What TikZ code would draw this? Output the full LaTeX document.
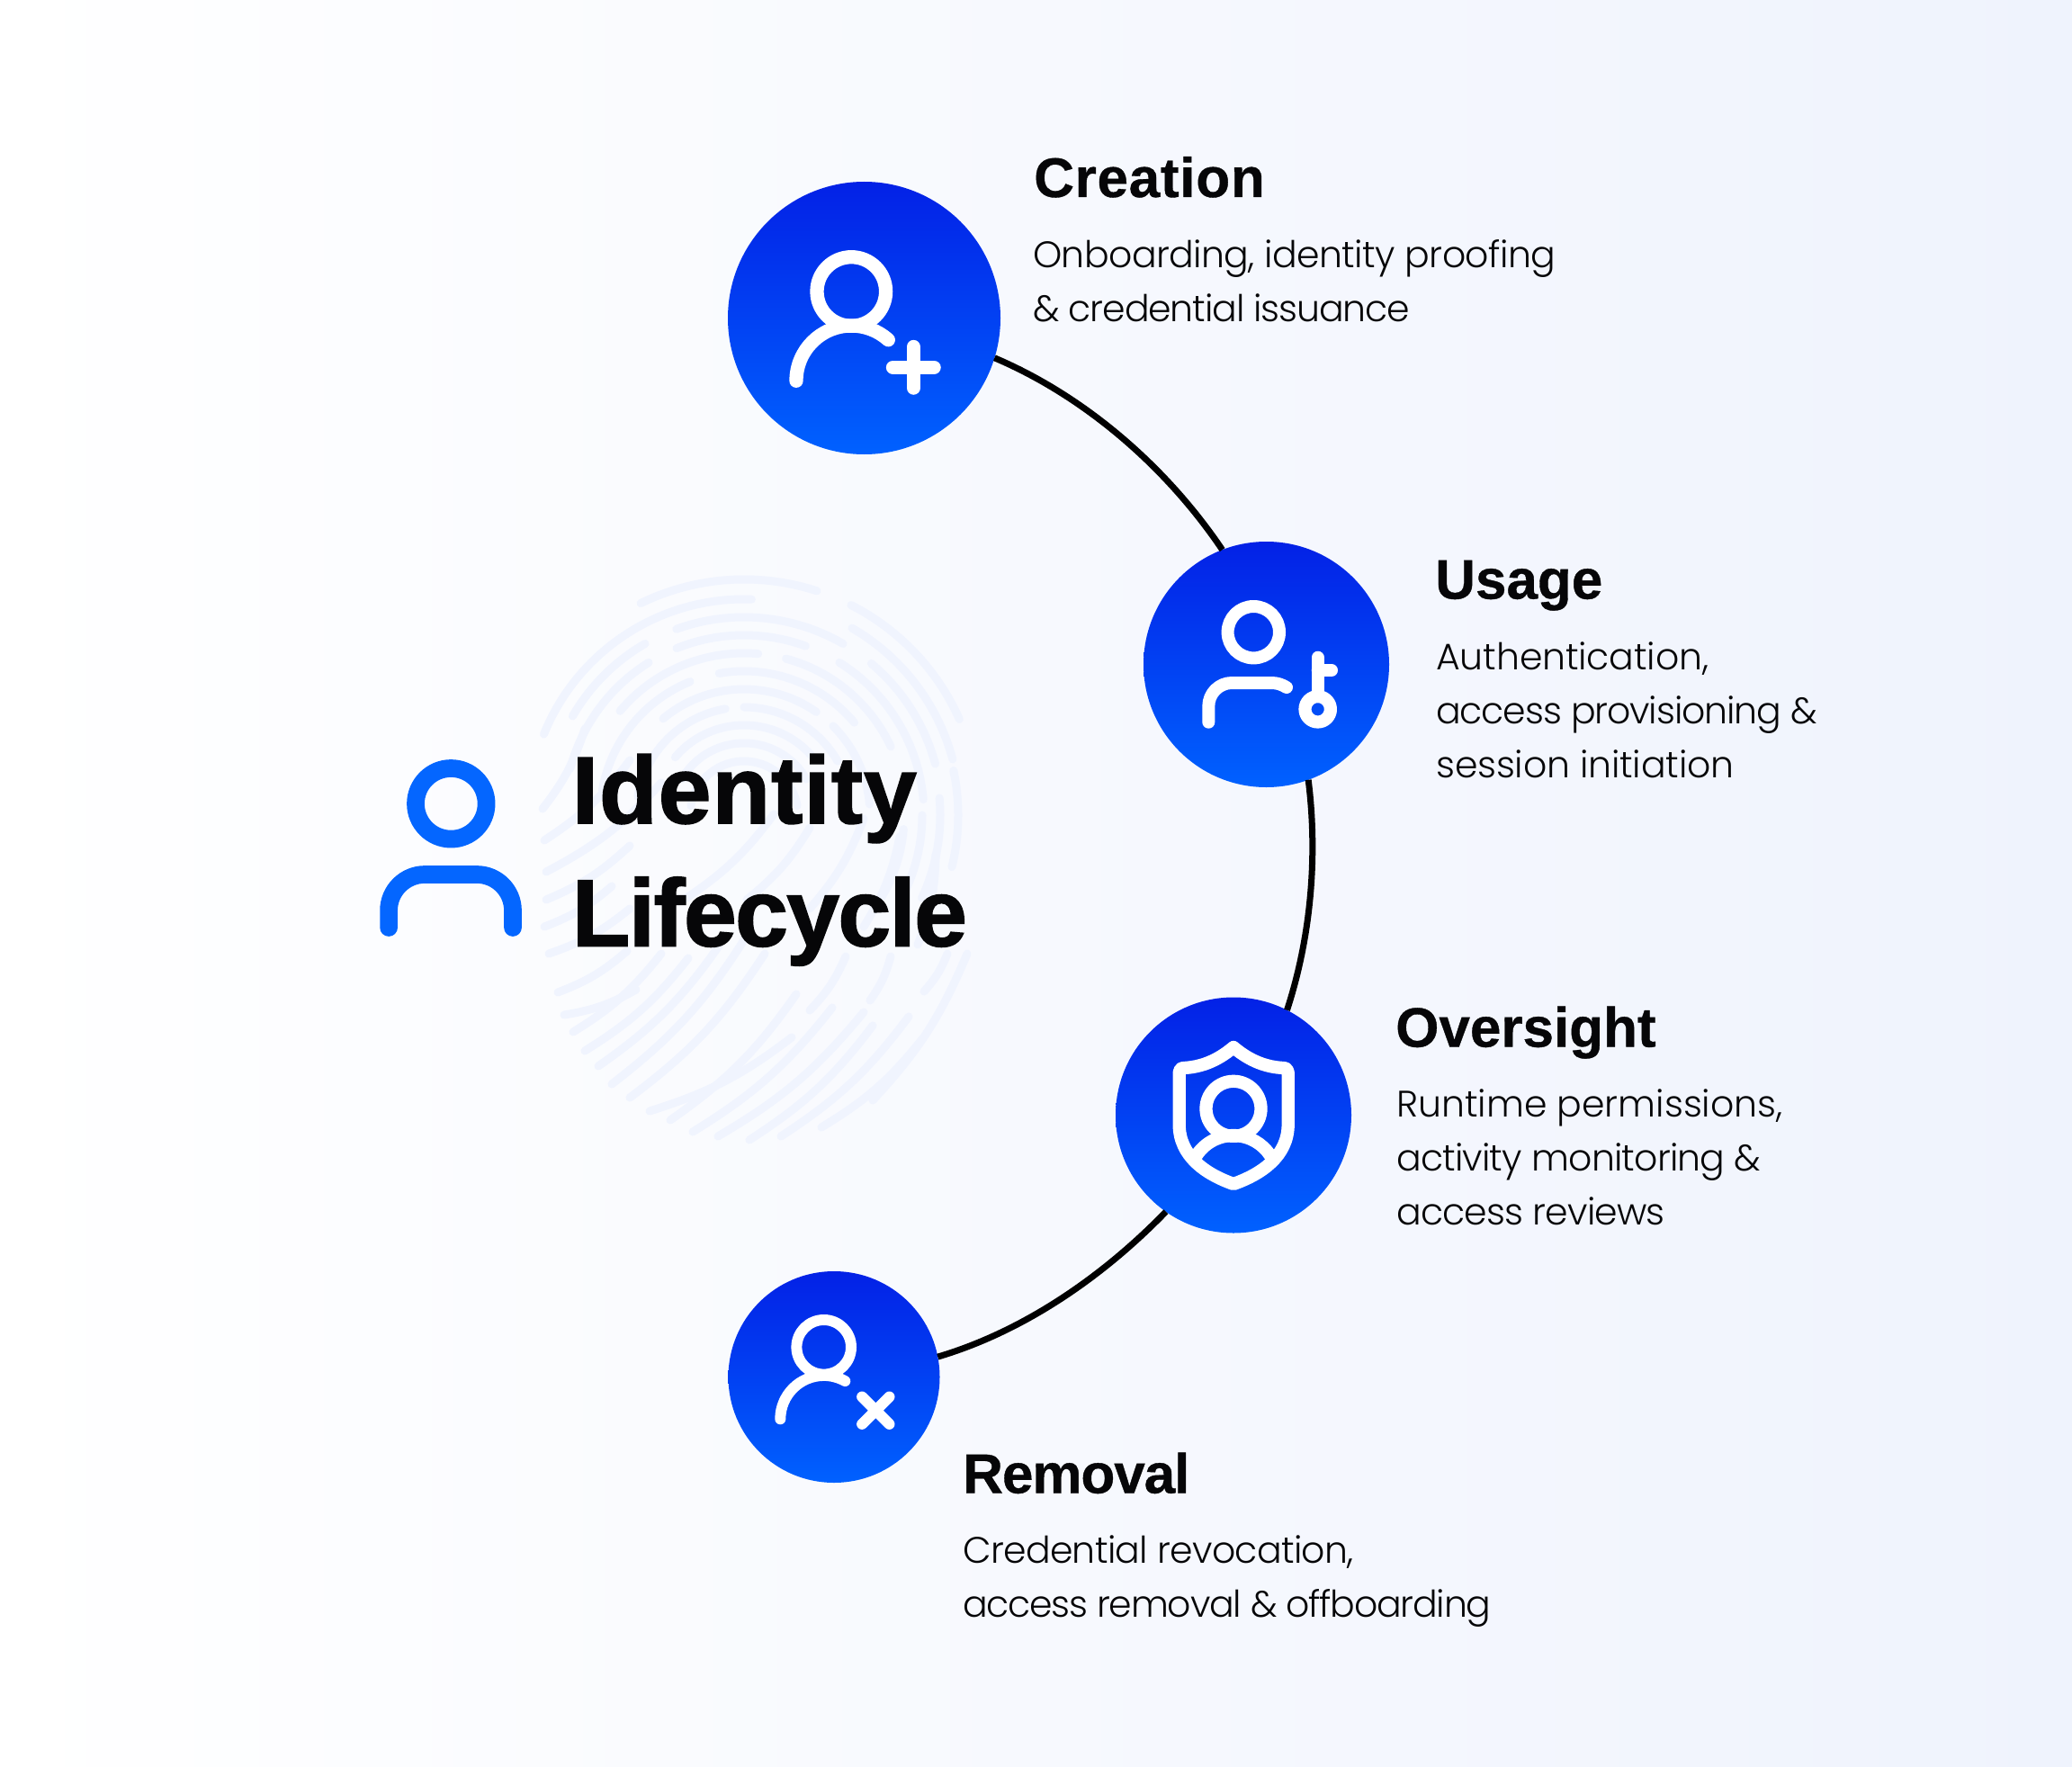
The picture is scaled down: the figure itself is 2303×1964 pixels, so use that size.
\documentclass[tikz,border=0pt]{standalone}
\usepackage{fontspec}
\setmainfont{Liberation Sans}
\newfontfamily\bodyf[LetterSpace=-2.0]{Poppins Light}
\newfontfamily\headf[FakeBold=0.6]{Liberation Sans Bold}
\newfontfamily\titlef[FakeBold=1.4]{Liberation Sans Bold}
\newcommand{\lsp}[2]{{\addfontfeature{LetterSpace=#1}#2}}
\usetikzlibrary{calc}
\definecolor{ctop}{HTML}{0321E6}
\definecolor{cbot}{HTML}{0061FF}
\definecolor{iconblue}{HTML}{0466FF}
\definecolor{ridge}{HTML}{F0F4FE}
\definecolor{ink}{HTML}{060608}
\definecolor{bgmid}{HTML}{F8FAFF}
\definecolor{bgright}{HTML}{EFF3FD}
\tikzset{
  disc/.style={circle,draw=none,inner sep=0pt,outer sep=0pt,top color=ctop,bottom color=cbot},
  link/.style={draw=black,line width=7pt,line cap=butt,looseness=0.85},
  ico/.style={draw=white,line cap=round,line join=round},
  ridgeline/.style={draw=ridge,line width=9pt,line cap=round},
  headtxt/.style={anchor=base west,inner sep=0pt,text=ink,font=\fontsize{62}{62}\selectfont\headf},
  bodytxt/.style={anchor=base west,inner sep=0pt,text=ink,align=left,font=\fontsize{41}{60}\selectfont\bodyf},
  titletxt/.style={anchor=base west,inner sep=0pt,text=ink,font=\fontsize{106}{106}\selectfont\titlef}
}
\begin{document}
\begin{tikzpicture}[x=1pt,y=-1pt]
\useasboundingbox (0,0) rectangle (2303,1964);
\shade[left color=white,middle color=bgmid,right color=bgright] (0,0) rectangle (2303,1964);
% fingerprint: upper concentric ridges
\foreach \r/\a/\b in {262/116/72,262/63/24,240/158/88,240/60/15,220/150/120,220/110/60,220/50/15,200/165/122,200/112/70,200/58/5,180/140/85,180/75/25,160/170/112,160/100/40,140/130/55,140/45/5,120/170/100,120/90/30,100/140/40,80/150/30,60/170/10,238/12/-14,218/5/-25,198/0/-30,178/-5/-35}{
  \draw[ridgeline] (827,906) ++(\a:\r pt) arc[start angle=\a,end angle=\b,radius=\r pt];
}
% fingerprint: lower sweeping ridges
\foreach \sx/\sy/\ex/\ey in {603/899/650/810,605/934/700/845,607/969/735/870,607/1000/700/940,605/1030/680/985,610/1060/700/1010,620/1103/697/1057,627/1128/707/1100,637/1147/735/1060,650/1168/765/1065,665/1185/800/1050,680/1205/830/1040,700/1220/850/1060,722/1235/880/1153,745/1245/885/1105,770/1258/925/1120,798/1263/960/1125,833/1267/970/1140,868/1263/1010/1130,913/1253/1025/1155,970/1223/1075/1060,900/1123/940/1063,967/1112/990/1063,1027/1102/1053/1060,760/1000/860/905,830/1000/900/920,900/1010/960/910,960/1030/1000/930,1020/1050/1040/950}{
  \draw[ridgeline] (\sx,\sy) to[bend right=10] (\ex,\ey);
}
% nodes
\node[disc,minimum size=303pt] (creation) at (960.5,353.5) {};
\node[disc,minimum size=273pt] (usage) at (1407.5,738.5) {};
\node[disc,minimum size=262pt] (oversight) at (1371,1239.5) {};
\node[disc,minimum size=235pt] (removal) at (927,1530.5) {};
% connectors
\draw[link] (creation.-17) to[out=-23,in=124] (usage.111.4);
\draw[link] (usage.-70.1) to[out=-82.8,in=71.9] (oversight.63.3);
\draw[link] (oversight.235.8) to[out=225.9,in=16.5] (removal.11.5);
% main person icon
\draw[draw=iconblue,line width=19.7pt] (501.3,893.3) circle[radius=39.3pt];
\draw[draw=iconblue,line width=19.7pt,line cap=round] (432.1,1031) -- (432.1,1012) arc[start angle=180,end angle=90,radius=40pt] -- (530,972) arc[start angle=90,end angle=0,radius=40pt] -- (570,1031);
% creation icon
\draw[ico,line width=15.3pt] (946.3,324) circle[radius=38.3pt];
\draw[ico,line width=15.3pt] (885,423.3) arc[start angle=180,end angle=48,radius=61.3pt];
\draw[ico,line width=15.3pt] (992.5,408.3) -- (1038.1,408.3) (1015.3,385.5) -- (1015.3,431.1);
% usage icon
\draw[ico,line width=14pt] (1393.3,702.7) circle[radius=28.7pt];
\draw[ico,line width=14pt] (1343.3,802.7) -- (1343.3,785) arc[start angle=180,end angle=90,radius=26pt] -- (1413,759) .. controls (1420,759) and (1425,761) .. (1430,764);
\draw[ico,line width=14pt] (1464.7,730.7) -- (1464.7,774) (1464.7,745) -- (1480,745);
\draw[ico,line width=14.2pt] (1464.7,788.3) circle[radius=14.2pt];
% oversight icon
\draw[ico,line width=14.3pt] (1371,1232.3) circle[radius=30.5pt];
\draw[ico,line width=14.3pt] (1371,1164) .. controls (1352,1180) and (1334,1186) .. (1316,1187) .. controls (1312.5,1187) and (1310.7,1189) .. (1310.7,1192) -- (1310.7,1250) .. controls (1310.7,1285) and (1340,1305) .. (1371,1316) .. controls (1402,1305) and (1431.7,1285) .. (1431.7,1250) -- (1431.7,1192) .. controls (1431.7,1189) and (1430,1187) .. (1426,1187) .. controls (1408,1186) and (1390,1180) .. (1371,1164) -- cycle;
\draw[ico,line width=14.3pt] (1330,1284) arc[start angle=146.5,end angle=33.5,radius=49pt];
% removal icon
\draw[ico,line width=12pt] (915.7,1497.3) circle[radius=30.3pt];
\draw[ico,line width=12pt] (867.3,1577.3) arc[start angle=180,end angle=60.8,radius=48.4pt];
\draw[ico,line width=12pt] (958.1,1552.5) -- (988.5,1582.9) (958.1,1582.9) -- (988.5,1552.5);
% title
\node[titletxt] (title1) at (635.5,915) {\addfontfeature{LetterSpace=0.85}Identity};
\node[titletxt] (title2) at (635.5,1051.5) {\addfontfeature{LetterSpace=-1.7}Lifecycle};
% labels
\node[headtxt] (h1) at (1149,219) {\addfontfeature{LetterSpace=1.2}Creation};
\node[bodytxt] (b1) at (1148,357) {\lsp{-1.4}{Onboarding, identity proofing}\\\lsp{-2.7}{\& credential issuance}};
\node[headtxt] (h2) at (1595,665.5) {Usage};
\node[bodytxt] (b2) at (1596,864) {\lsp{-0.3}{Authentication,}\\\lsp{-2.7}{access provisioning \&}\\\lsp{-0.4}{session initiation}};
\node[headtxt] (h3) at (1551,1163.5) {Oversight};
\node[bodytxt] (b3) at (1552,1361.5) {\lsp{0}{Runtime permissions,}\\\lsp{-2}{activity monitoring \&}\\\lsp{-2}{access reviews}};
\node[headtxt] (h4) at (1070,1659.5) {\addfontfeature{LetterSpace=-1.7}Removal};
\node[bodytxt] (b4) at (1070,1797.5) {\lsp{-1.7}{Credential revocation,}\\\lsp{-3}{access removal \& offboarding}};
\end{tikzpicture}
\end{document}
